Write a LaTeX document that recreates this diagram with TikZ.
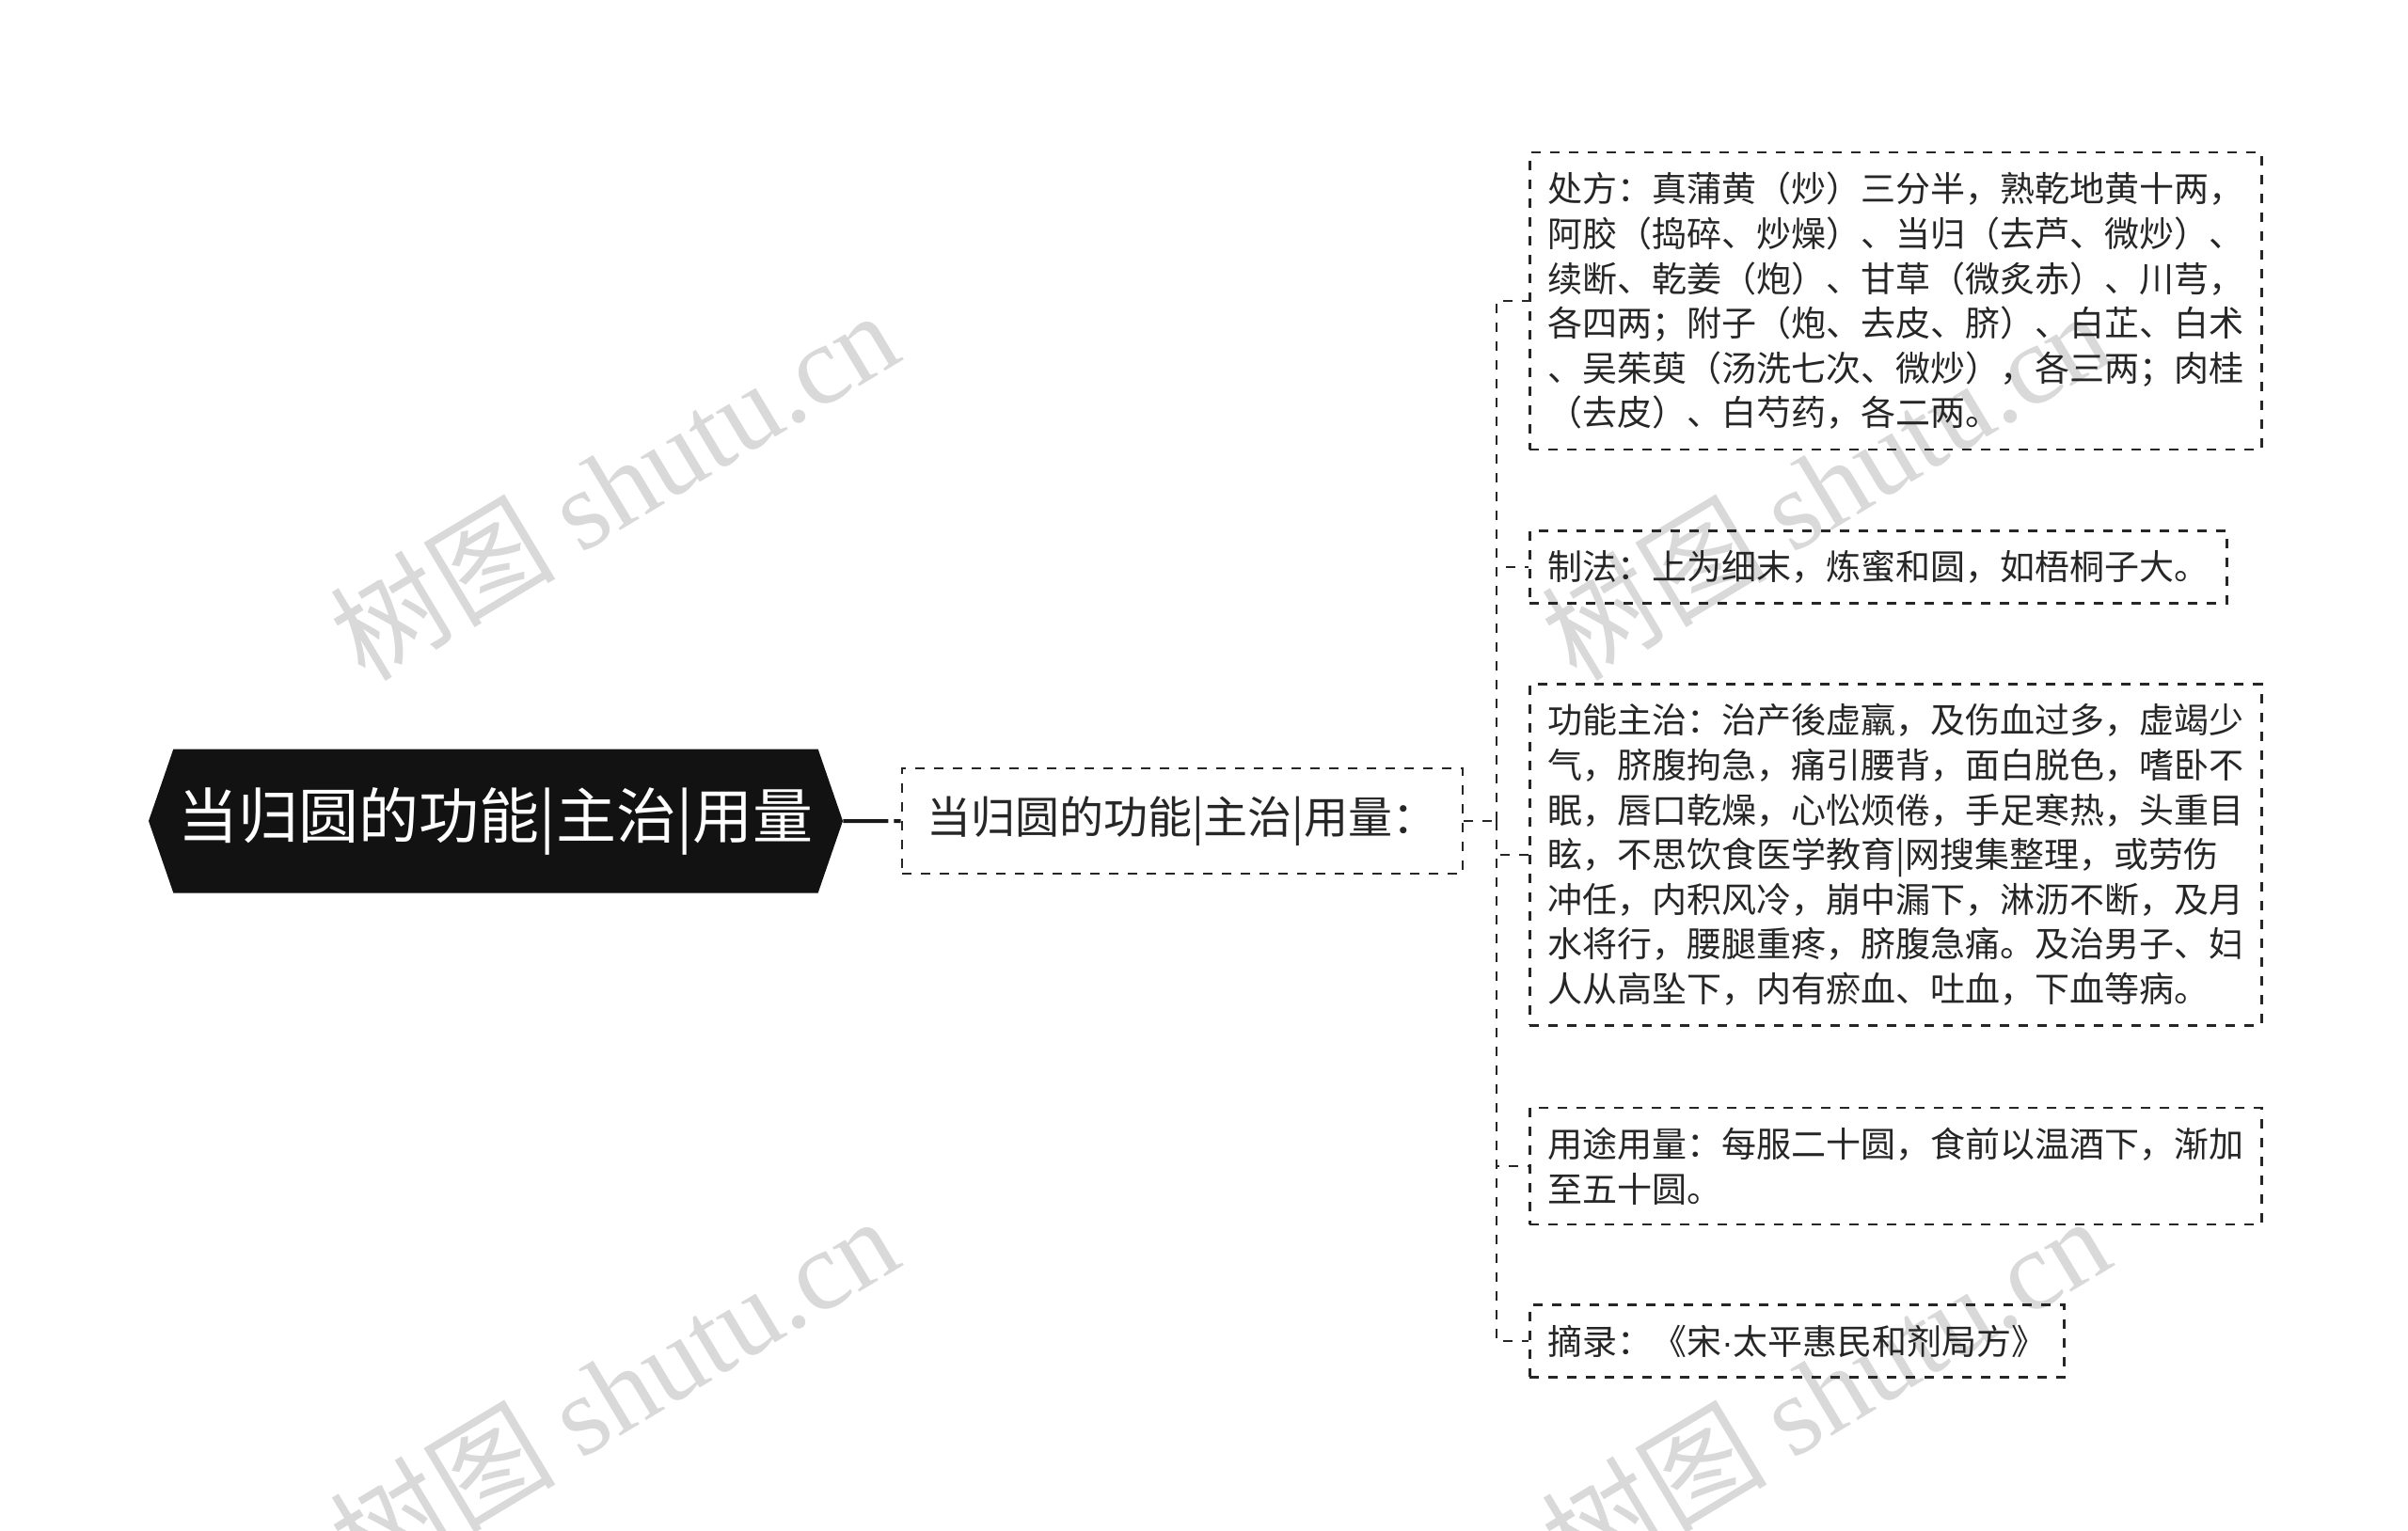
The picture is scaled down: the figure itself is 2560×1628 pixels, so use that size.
\documentclass[tikz,border=0pt]{standalone}
\usepackage{fontspec}
\setmainfont{Noto Sans CJK SC}
\newfontfamily\wmlatin{Liberation Serif}
\newfontfamily\latinsans{Liberation Sans}
\usetikzlibrary{positioning,shapes.symbols}

\begin{document}
\begin{tikzpicture}[x=0.5pt,y=-0.5pt]
\tikzset{rootnode/.style = {signal,signal to=west and east,signal pointer angle=142,fill=black!93,text=white,font=\fontsize{32}{38}\selectfont,minimum width=369pt,minimum height=76.5pt,inner sep=0pt}}
\tikzset{midbox/.style = {draw=black!85,line width=1.3pt,dash pattern=on 5pt off 5pt,text=black!85,font=\fontsize{23.5}{28}\selectfont,text width=272pt,minimum height=56pt,inner xsep=13pt,align=left}}
\tikzset{leafbox/.style = {draw=black!85,line width=1.3pt,dash pattern=on 5pt off 5pt,text=black!85,font=\fontsize{18.5}{23.8}\selectfont,inner xsep=9.5pt,inner ysep=10.5pt,align=left,anchor=west}}
\tikzset{link/.style = {draw=black!85,line width=1.3pt,dash pattern=on 5pt off 5pt}}
\tikzset{mainlink/.style = {draw=black!90,line width=2pt,dash pattern=on 24pt off 3pt on 5pt off 3pt}}
\tikzset{watermark/.style = {text=black!15,rotate=31,font=\fontsize{60}{64}\selectfont}}
\useasboundingbox (0,0) rectangle (2560,1628);
% WATERMARKS
\node[watermark] (wm1) at (652,515) {树图 {\wmlatin shutu.cn}};
\node[watermark] (wm2) at (652,1478) {树图 {\wmlatin shutu.cn}};
\node[watermark] (wm3) at (1940,515) {树图 {\wmlatin shutu.cn}};
\node[watermark] (wm4) at (1940,1478) {树图 {\wmlatin shutu.cn}};
% NODES
\node[rootnode] (root) at (527,873) {当归圆的功能|主治|用量};
\node[midbox] (mid) at (1257,873) {当归圆的功能|主治|用量：};
\node[leafbox] (recipe) at (1625,320) {处方：真蒲黄（炒）三分半，熟乾地黄十两，\\阿胶（捣碎、炒燥）、当归（去芦、微炒）、\\续断、乾姜（炮）、甘草（微炙赤）、川芎，\\各四两；附子（炮、去皮、脐）、白芷、白术\\、吴茱萸（汤洗七次、微炒），各三两；肉桂\\（去皮）、白芍药，各二两。};
\node[leafbox] (method) at (1625,603) {制法：上为细末，炼蜜和圆，如梧桐子大。};
\node[leafbox] (effect) at (1625,909) {功能主治：治产後虚羸，及伤血过多，虚竭少\\气，脐腹拘急，痛引腰背，面白脱色，嗜卧不\\眠，唇口乾燥，心忪烦倦，手足寒热，头重目\\眩，不思饮食医学教育|网搜集整理，或劳伤\\冲任，内积风冷，崩中漏下，淋沥不断，及月\\水将行，腰腿重疼，脐腹急痛。及治男子、妇\\人从高坠下，内有瘀血、吐血，下血等病。};
\node[leafbox] (dose) at (1625,1240) {用途用量：每服二十圆，食前以温酒下，渐加\\至五十圆。};
\node[leafbox] (source) at (1625,1426) {摘录：《宋{\latinsans ·}太平惠民和剂局方》};
\coordinate (hub) at (1591,873);
% EDGES
\draw[mainlink] (root) -- (mid);
\draw[link] (mid) -- (hub);
\foreach \leaf in {recipe,method,effect,dose,source}
  \draw[link] (hub) |- (\leaf.west);
\end{tikzpicture}
\end{document}
